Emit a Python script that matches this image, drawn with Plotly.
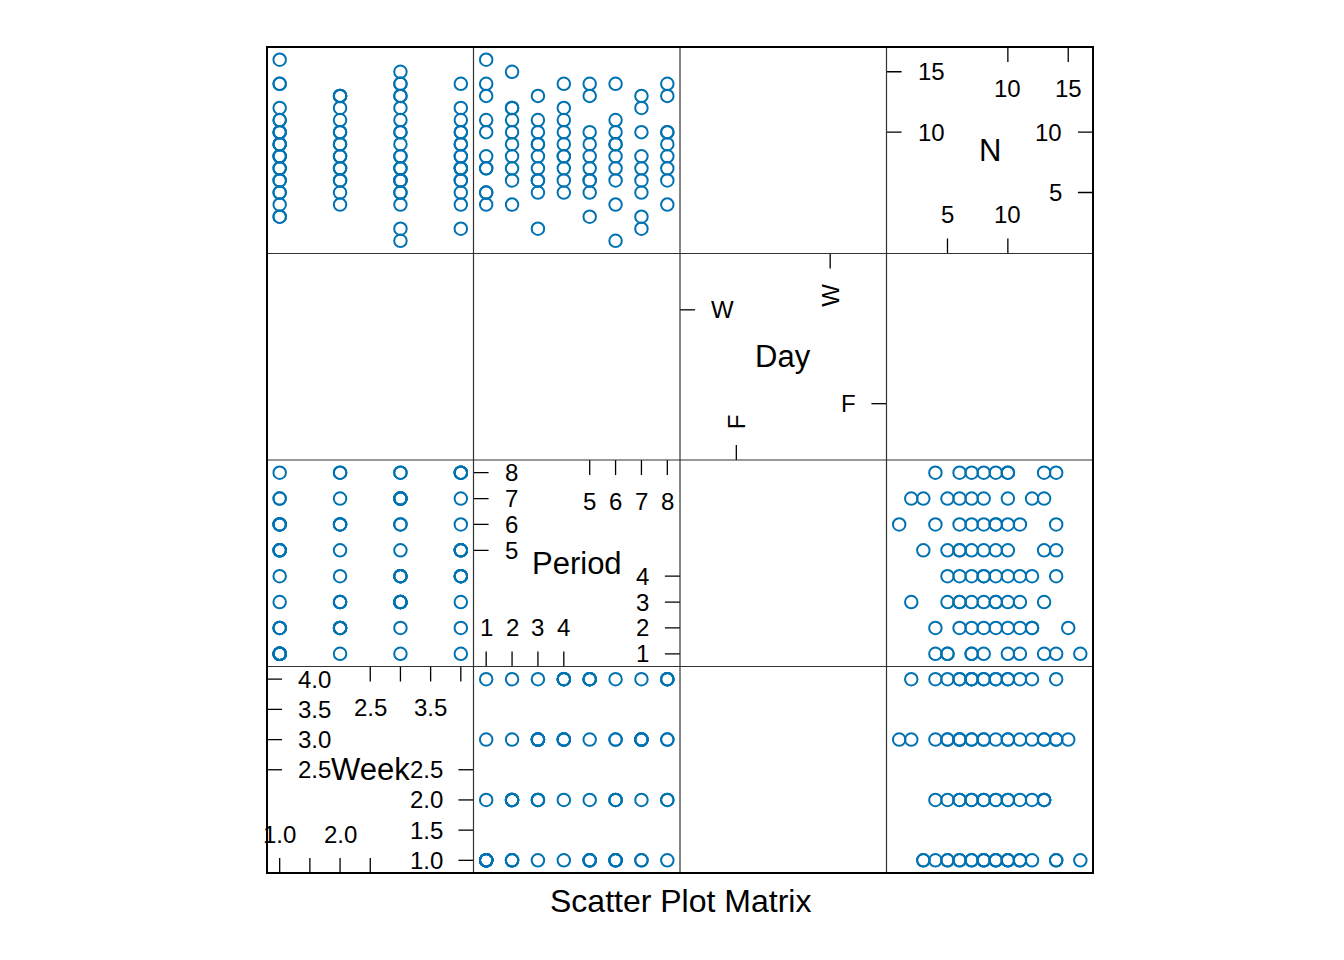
import plotly.graph_objects as go

# Scatter plot matrix (lattice splom style) of Week, Period, Day and N

# one entry per observation
week = [3, 3, 4, 1, 1, 1, 2, 3, 4, 1, 2, 3, 4, 1, 1, 2, 3, 4, 1, 2, 3,
        1, 2, 3, 4, 1, 2, 3, 4, 1, 2, 3, 4, 1, 2, 3, 4, 1, 2, 3, 4, 1, 2,
        1, 2, 3, 4, 1, 2, 3, 4, 1, 2, 3, 4, 1, 1, 2, 3, 4, 2, 3, 2, 3, 2,
        1, 3, 4, 1, 3, 3, 1,
        1, 1, 1, 3, 3, 4, 4, 4]
period = [6, 3, 7, 5, 7, 1, 2, 6, 8, 1, 3, 4, 5, 7, 2, 3, 4, 5, 6, 7, 8,
          1, 2, 3, 4, 5, 6, 7, 8, 1, 2, 3, 4, 5, 6, 7, 8, 2, 3, 4, 5, 6, 8,
          1, 2, 3, 4, 5, 6, 7, 8, 1, 2, 3, 4, 6, 2, 4, 7, 2, 1, 3, 5, 7, 8,
          1, 4, 5, 6, 8, 2, 1,
          3, 4, 8, 1, 5, 1, 3, 6]
day = ["F", "W", "F", "W", "F", "W", "F", "W", "F", "W", "F", "W", "F", "W", "F", "W", "F", "W",
       "F", "W", "F", "W", "F", "W", "F", "W", "F", "W", "F", "W", "F", "W", "F", "W", "F", "W",
       "F", "W", "F", "W", "F", "W", "F", "W", "F", "W", "F", "W", "F", "W", "F", "W", "F", "W",
       "F", "W", "F", "W", "F", "W", "F", "W", "F", "W", "F", "W", "F", "W", "F", "W", "F", "W",
       "F", "W", "F", "W", "F", "W", "F", "W"]
n = [1, 2, 2, 3, 3, 4, 4, 4, 4, 5, 5, 5, 5, 5, 6, 6, 6, 6, 6, 6, 6,
     7, 7, 7, 7, 7, 7, 7, 7, 8, 8, 8, 8, 8, 8, 8, 8, 9, 9, 9, 9, 9, 9,
     10, 10, 10, 10, 10, 10, 10, 10, 11, 11, 11, 11, 11, 12, 12, 12, 12, 13, 13, 13, 13, 13,
     14, 14, 14, 14, 14, 15, 16,
     9, 8, 10, 5, 6, 7, 6, 9]

var_names = ["Week", "Period", "Day", "N"]
values = {"Week": week, "Period": period, "N": n}
ranges = {"Week": [0.79, 4.21], "Period": [0.51, 8.49], "Day": [0.4, 2.6], "N": [-0.05, 17.05]}

# diagonal panel axes: lower half (bottom + right side), upper half (top + left side)
low_ticks = {"Week": [1.0, 1.5, 2.0, 2.5], "Period": [1, 2, 3, 4], "Day": [1], "N": [5, 10]}
bottom_labels = {"Week": ["1.0", "", "2.0", ""], "Period": ["1", "2", "3", "4"], "Day": ["F"], "N": ["5", "10"]}
right_labels = {"Week": ["1.0", "1.5", "2.0", "2.5"], "Period": ["1", "2", "3", "4"], "Day": ["F"], "N": ["5", "10"]}
up_ticks = {"Week": [2.5, 3.0, 3.5, 4.0], "Period": [5, 6, 7, 8], "Day": [2], "N": [10, 15]}
top_labels = {"Week": ["2.5", "", "3.5", ""], "Period": ["5", "6", "7", "8"], "Day": ["W"], "N": ["10", "15"]}
left_labels = {"Week": ["2.5", "3.0", "3.5", "4.0"], "Period": ["5", "6", "7", "8"], "Day": ["W"], "N": ["10", "15"]}

point_color = "#0072B2"
font_family = "Liberation Sans, Arial, sans-serif"
tick_len = 0.073


def axref(i):
    return ("x" if i == 0 else "x%d" % (i + 1)), ("y" if i == 0 else "y%d" % (i + 1))


fig = go.Figure()

# off-diagonal panels (Day is not drawn)
for i, vx in enumerate(var_names):
    for j, vy in enumerate(var_names):
        if i == j or vx == "Day" or vy == "Day":
            continue
        xr, _ = axref(i)
        _, yr = axref(j)
        fig.add_trace(go.Scatter(
            x=values[vx], y=values[vy], xaxis=xr, yaxis=yr,
            mode="markers", showlegend=False, hoverinfo="x+y",
            marker=dict(symbol="circle-open", size=12.5, color=point_color,
                        line=dict(width=2, color=point_color)),
        ))

# page body has an 8px margin, so the figure is shifted by it
layout = dict(
    width=1320, height=936,
    margin=dict(l=259, r=235, t=39, b=71),
    paper_bgcolor="white", plot_bgcolor="white",
    font=dict(family=font_family, color="black", size=24),
)
for i, v in enumerate(var_names):
    dom = [i / 4, (i + 1) / 4]
    xk = "xaxis" if i == 0 else "xaxis%d" % (i + 1)
    yk = "yaxis" if i == 0 else "yaxis%d" % (i + 1)
    common = dict(range=ranges[v], domain=dom, showgrid=False, zeroline=False,
                  showline=False, showticklabels=False, ticks="", fixedrange=True)
    layout[xk] = dict(common, anchor="y")
    layout[yk] = dict(common, anchor="x")
fig.update_layout(**layout)

shapes = []
annotations = []
line_style = dict(color="black", width=1.3)

# diagonal panels: variable name and axis labels
for i, v in enumerate(var_names):
    xr, yr = axref(i)
    rot = -90 if v == "Day" else 0
    annotations.append(dict(text=v, x=0.5, y=0.5, xref=xr + " domain", yref=yr + " domain",
                            showarrow=False, font=dict(size=31)))
    for t, lab_b, lab_r in zip(low_ticks[v], bottom_labels[v], right_labels[v]):
        shapes.append(dict(type="line", xref=xr, yref=yr + " domain", x0=t, x1=t, y0=0, y1=tick_len, line=line_style))
        shapes.append(dict(type="line", xref=xr + " domain", yref=yr, x0=1, x1=1 - tick_len, y0=t, y1=t, line=line_style))
        if lab_b:
            annotations.append(dict(text=lab_b, x=t, y=0, xref=xr, yref=yr + " domain", yanchor="middle",
                                    yshift=38 if rot else 39, textangle=rot, showarrow=False))
        annotations.append(dict(text=lab_r, x=1, y=t, xref=xr + " domain", yref=yr, xanchor="right",
                                xshift=-29, showarrow=False))
    for t, lab_t, lab_l in zip(up_ticks[v], top_labels[v], left_labels[v]):
        shapes.append(dict(type="line", xref=xr, yref=yr + " domain", x0=t, x1=t, y0=1, y1=1 - tick_len, line=line_style))
        shapes.append(dict(type="line", xref=xr + " domain", yref=yr, x0=0, x1=tick_len, y0=t, y1=t, line=line_style))
        if lab_t:
            annotations.append(dict(text=lab_t, x=t, y=1, xref=xr, yref=yr + " domain", yanchor="middle",
                                    yshift=-42 if rot else -41, textangle=rot, showarrow=False))
        annotations.append(dict(text=lab_l, x=0, y=t, xref=xr + " domain", yref=yr, xanchor="left",
                                xshift=29, showarrow=False))

# panel borders
for k in (0.25, 0.5, 0.75):
    shapes.append(dict(type="line", xref="paper", yref="paper", x0=k, x1=k, y0=0, y1=1,
                       line=dict(color="#333333", width=1.2)))
    shapes.append(dict(type="line", xref="paper", yref="paper", x0=0, x1=1, y0=k, y1=k,
                       line=dict(color="#333333", width=1.2)))
shapes.append(dict(type="rect", xref="paper", yref="paper", x0=0, x1=1, y0=0, y1=1,
                   line=dict(color="black", width=2)))

annotations.append(dict(text="Scatter Plot Matrix", x=0.5, y=0, xref="paper", yref="paper",
                        yanchor="middle", yshift=-28, showarrow=False, font=dict(size=32)))

fig.update_layout(shapes=shapes, annotations=annotations)

fig.write_html("out.html")
